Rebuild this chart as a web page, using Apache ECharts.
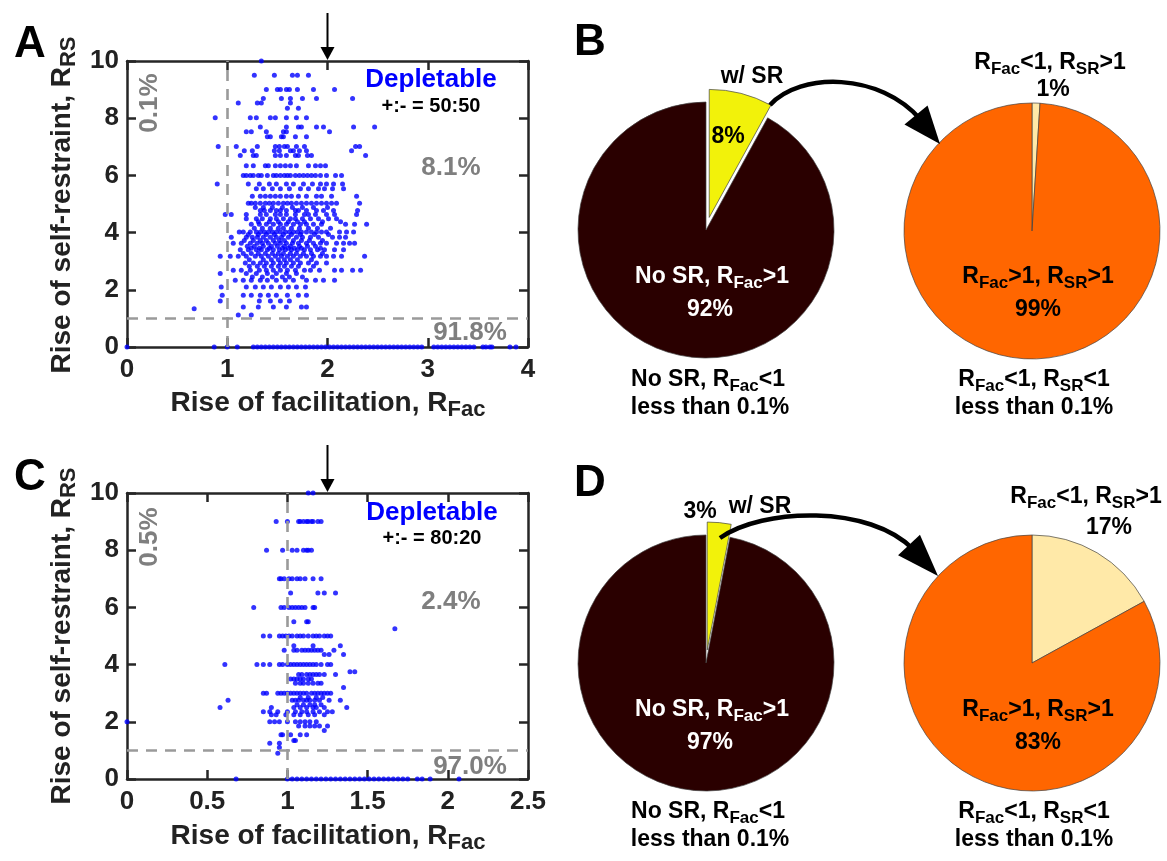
<!DOCTYPE html>
<html>
<head>
<meta charset="utf-8">
<script src="https://cdn.jsdelivr.net/npm/echarts@6/dist/echarts.min.js"></script>
<style>
html, body { margin: 0; padding: 0; background: #fff; }
#main { width: 1167px; height: 861px; }
</style>
</head>
<body>
<div id="main"></div>
<script>
// ---- data ----
// scatter rows: [R_RS, [R_Fac values on that row]]
var rowsA = [
    [10.0, [1.34]],
    [9.5, [1.27, 1.47, 1.65, 1.70, 1.81]],
    [9.0, [1.39, 1.50, 1.53, 1.59, 1.62, 1.70, 1.86, 2.07]],
    [8.69, [1.36, 1.54, 1.63, 1.75, 1.89, 2.25]],
    [8.53, [1.11, 1.30, 1.34, 1.63]],
    [8.35, [1.60, 1.71]],
    [8.02, [0.88, 1.23, 1.29, 1.43, 1.48, 1.59, 1.69, 1.79]],
    [7.69, [1.33, 1.59, 1.71, 1.74, 1.89, 1.96, 2.26, 2.47]],
    [7.53, [1.19, 1.24, 1.39, 1.56, 1.59, 2.02]],
    [7.35, [1.40, 1.43, 1.54, 1.56, 1.68, 1.79]],
    [7.01, [0.91, 1.09, 1.30, 1.48, 1.52, 1.57, 1.60, 1.69, 1.77, 2.28, 2.32]],
    [6.86, [1.17, 1.25, 1.47, 1.52, 1.63, 1.66, 1.72, 1.79, 2.24]],
    [6.70, [1.13, 1.26, 1.29, 1.48, 1.53, 1.59, 1.68, 1.71, 1.80, 1.84, 2.38]],
    [6.34, [1.19, 1.26, 1.38, 1.41, 1.48, 1.53, 1.58, 1.63, 1.69, 1.81, 1.88, 1.93, 1.98]],
    [6.00, [1.16, 1.19, 1.23, 1.26, 1.31, 1.34, 1.40, 1.46, 1.49, 1.53, 1.57, 1.60, 1.63, 1.68, 1.72, 1.76, 1.80, 1.84, 1.88, 1.93, 1.99, 2.08, 2.14]],
    [5.70, [0.90, 1.21, 1.32, 1.42, 1.49, 1.59, 1.66, 1.76, 1.85, 1.93, 1.99, 2.06, 2.15]],
    [5.53, [1.29, 1.36, 1.45, 1.53, 1.62, 1.73, 1.81, 1.91, 1.97, 2.05, 2.16]],
    [5.27, [1.25, 1.33, 1.38, 1.43, 1.48, 1.53, 1.59, 1.64, 1.71, 1.79, 1.89, 1.94, 2.04, 2.29]],
    [5.03, [1.21, 1.24, 1.28, 1.33, 1.38, 1.42, 1.46, 1.51, 1.56, 1.60, 1.64, 1.69, 1.74, 1.79, 1.84, 1.89, 1.94, 1.99, 2.04, 2.09, 2.32]],
    [4.88, [1.28, 1.36, 1.45, 1.55, 1.65, 1.75, 1.86, 2.00]],
    [4.77, [1.33, 1.37, 1.43, 1.49, 1.53, 1.59, 1.68, 1.71, 1.79, 1.89, 1.96, 2.06, 2.30]],
    [4.63, [0.98, 1.04, 1.19, 1.33, 1.39, 1.48, 1.53, 1.59, 1.68, 1.77, 1.81, 1.88, 1.99, 2.07, 2.29]],
    [4.48, [1.19, 1.29, 1.35, 1.43, 1.49, 1.56, 1.63, 1.68, 1.75, 1.83, 1.91, 2.01, 2.09]],
    [4.38, [1.31, 1.42, 1.51, 1.61, 1.70, 1.77, 1.95, 2.13]],
    [4.29, [1.24, 1.32, 1.39, 1.46, 1.53, 1.59, 1.66, 1.73, 1.79, 1.86, 1.94, 2.18, 2.27, 2.39]],
    [4.15, [1.27, 1.35, 1.43, 1.51, 1.56, 1.64, 1.72, 1.81, 1.90, 2.03]],
    [4.02, [1.12, 1.16, 1.23, 1.29, 1.33, 1.37, 1.41, 1.45, 1.49, 1.53, 1.58, 1.62, 1.66, 1.70, 1.74, 1.79, 1.84, 1.89, 1.94, 1.99, 2.12, 2.19, 2.26]],
    [3.93, [1.21, 1.31, 1.39, 1.47, 1.56, 1.64, 1.73, 1.87, 2.01]],
    [3.84, [1.04, 1.19, 1.25, 1.30, 1.36, 1.43, 1.49, 1.54, 1.61, 1.69, 1.75, 1.83, 1.91, 2.05, 2.12, 2.18]],
    [3.72, [1.17, 1.26, 1.33, 1.39, 1.46, 1.52, 1.57, 1.66, 1.74, 1.82, 1.95]],
    [3.63, [1.06, 1.14, 1.23, 1.30, 1.35, 1.41, 1.48, 1.53, 1.59, 1.65, 1.71, 1.79, 1.86, 1.93, 1.99, 2.09, 2.16, 2.22, 2.27]],
    [3.52, [1.20, 1.27, 1.36, 1.44, 1.50, 1.57, 1.63, 1.72, 1.80, 1.88]],
    [3.45, [1.24, 1.32, 1.42, 1.55, 1.61, 1.67, 1.74, 1.93]],
    [3.40, [1.13, 1.21, 1.29, 1.34, 1.40, 1.46, 1.52, 1.58, 1.64, 1.70, 1.77, 1.83, 1.90, 1.97, 2.07, 2.16]],
    [3.27, [1.16, 1.24, 1.31, 1.38, 1.45, 1.51, 1.56, 1.63, 1.69, 1.76, 1.84, 1.95]],
    [3.17, [0.93, 1.03, 1.11, 1.19, 1.28, 1.34, 1.41, 1.48, 1.54, 1.60, 1.66, 1.73, 1.79, 1.86, 1.93, 1.99, 2.06, 2.14, 2.37]],
    [3.05, [1.22, 1.36, 1.44, 1.51, 1.57, 1.63, 1.70, 1.84]],
    [2.94, [1.18, 1.26, 1.33, 1.39, 1.46, 1.53, 1.59, 1.66, 1.73, 1.81, 1.89, 1.99]],
    [2.82, [1.22, 1.30, 1.37, 1.44, 1.51, 1.57, 1.64, 1.71, 1.86]],
    [2.68, [1.06, 1.14, 1.23, 1.32, 1.39, 1.46, 1.53, 1.60, 1.68, 1.77, 1.83, 1.92, 2.07, 2.14, 2.25, 2.33]],
    [2.57, [0.93, 1.19, 1.29, 1.40, 1.49, 1.59, 1.69]],
    [2.45, [1.25, 1.35, 1.45, 1.55, 1.62, 1.75]],
    [2.33, [1.08, 1.16, 1.24, 1.33, 1.40, 1.49, 1.58, 1.66, 1.79, 1.88, 1.96, 2.07]],
    [2.10, [0.94, 1.19, 1.28, 1.36, 1.44, 1.53, 1.61, 1.69, 1.78]],
    [1.81, [0.95, 1.16, 1.24, 1.33, 1.41, 1.49, 1.60, 1.71, 1.79]],
    [1.61, [0.93, 1.32, 1.43, 1.53, 1.62]],
    [1.40, [1.16, 1.31, 1.46, 1.59, 1.74, 1.79]],
    [1.34, [0.67]],
    [1.12, [1.11, 1.24]]
];
// points lying on R_RS = 0 (no self-restraint)
var zeroA = [0, 0.87, 1.0, 1.1,
    1.26, 1.30, 1.34, 1.38, 1.42, 1.46, 1.50, 1.54, 1.58, 1.62, 1.66, 1.70, 1.74, 1.78, 1.82, 1.86,
    1.90, 1.94, 1.98, 2.02, 2.06, 2.10, 2.14, 2.18, 2.22, 2.26, 2.30, 2.34, 2.38, 2.42, 2.46, 2.50,
    2.54, 2.58, 2.62, 2.66, 2.70, 2.74, 2.78, 2.82, 2.86, 2.90, 2.94,
    3.06, 3.10, 3.14, 3.18, 3.22, 3.26, 3.30, 3.34, 3.38, 3.42, 3.46, 3.55, 3.58, 3.62, 3.64,
    3.82, 3.88];

var rowsC = [
    [10, [1.13, 1.16]],
    [9, [0.93, 1.0, 1.07, 1.08, 1.10, 1.12, 1.13, 1.15, 1.16, 1.19, 1.21]],
    [8, [0.87, 0.97, 1.03, 1.06, 1.10, 1.12, 1.13, 1.15]],
    [7, [0.95, 0.96, 0.98, 1.01, 1.03, 1.06, 1.08, 1.11, 1.16, 1.21]],
    [6.5, [1.02, 1.19, 1.23, 1.30]],
    [6, [0.79, 0.96, 0.98, 1.01, 1.03, 1.05, 1.07, 1.09, 1.11, 1.16, 1.17]],
    [5.5, [1.04, 1.12, 1.13]],
    [5.25, [1.67]],
    [5, [0.85, 0.89, 0.95, 0.97, 0.99, 1.01, 1.03, 1.06, 1.08, 1.10, 1.13, 1.16, 1.18, 1.20, 1.23, 1.25, 1.27]],
    [4.66, [1.04, 1.16, 1.33]],
    [4.5, [0.98, 1.04, 1.06, 1.09, 1.11, 1.13, 1.15, 1.17, 1.19, 1.21, 1.29]],
    [4.35, [1.23, 1.26, 1.35]],
    [4, [0.61, 0.81, 0.85, 0.89, 0.95, 0.97, 1.0, 1.02, 1.04, 1.06, 1.08, 1.10, 1.12, 1.14, 1.16, 1.18, 1.21, 1.25, 1.27]],
    [3.75, [1.39, 1.42]],
    [3.65, [1.07, 1.09, 1.12, 1.14, 1.16, 1.18, 1.20, 1.23, 1.30]],
    [3.5, [1.02, 1.04, 1.06, 1.08, 1.10, 1.13, 1.15]],
    [3.35, [1.05, 1.08, 1.10, 1.13, 1.16, 1.19, 1.21]],
    [3.2, [1.35]],
    [3, [0.85, 0.87, 0.94, 0.96, 0.98, 1.0, 1.02, 1.04, 1.06, 1.08, 1.10, 1.12, 1.15, 1.17, 1.19, 1.21, 1.23, 1.25, 1.27]],
    [2.85, [1.08, 1.13, 1.18, 1.22]],
    [2.75, [0.63, 1.03, 1.05, 1.07, 1.10, 1.12, 1.14, 1.17, 1.20, 1.26, 1.33]],
    [2.6, [1.06, 1.10, 1.14, 1.17, 1.21]],
    [2.5, [0.58, 0.90, 1.04, 1.08, 1.12, 1.16, 1.18, 1.23, 1.37]],
    [2.35, [0.85, 0.89, 0.94, 1.0, 1.05, 1.09, 1.12, 1.16, 1.20, 1.25, 1.28]],
    [2.25, [0.90, 0.93, 0.99, 1.04, 1.08, 1.13, 1.17, 1.23]],
    [2, [0.0, 0.89, 0.92, 0.95, 1.0, 1.05, 1.08, 1.11, 1.14, 1.18]],
    [1.85, [1.07, 1.11, 1.14, 1.17, 1.20, 1.25]],
    [1.7, [1.23]],
    [1.55, [0.96, 0.97, 1.02, 1.08, 1.12]],
    [1.35, [1.04, 1.05]],
    [1.25, [0.89, 0.95]],
    [1.1, [0.95]],
    [0.9, [0.94]]
];
var zeroC = [0.68,
    1.00, 1.03, 1.06, 1.09, 1.12, 1.15, 1.18, 1.21, 1.24, 1.27, 1.30, 1.33, 1.36, 1.39, 1.42,
    1.45, 1.48, 1.51, 1.54, 1.57, 1.60, 1.63, 1.66, 1.69, 1.72, 1.75,
    1.81, 1.84, 1.89, 2.07];

// arrow marks the chosen R_Fac on each scatter
var arrowX = [2, 1.25];
var quadrantA = ['0.1%', '8.1%', '91.8%'];
var quadrantC = ['0.5%', '2.4%', '97.0%'];

// pies: [w/ SR (or minor), rest]
var pieBLeft = [8, 92];
var pieBRight = [1, 99];
var pieDLeft = [3, 97];
var pieDRight = [17, 83];

var FONT = '"Liberation Sans", Arial, Helvetica, sans-serif';
var myChart = echarts.init(document.getElementById('main'));

function toPoints(rows, zeros) {
    var pts = [];
    rows.forEach(function (r) {
        r[1].forEach(function (x) { pts.push([x, r[0]]); });
    });
    zeros.forEach(function (x) { pts.push([x, 0]); });
    return pts;
}

// rich text styles: m = main, s = subscript
function richStyle(size, sub) {
    return {
        m: { fontSize: size, fontWeight: 'bold', fontFamily: FONT, lineHeight: Math.round(size * 1.3) },
        s: { fontSize: sub, fontWeight: 'bold', fontFamily: FONT, verticalAlign: 'bottom' }
    };
}

function txt(x, y, text, size, color, opt) {
    opt = opt || {};
    var el = {
        type: 'text', x: x, y: y, z: 100,
        rotation: opt.rotation || 0,
        style: {
            text: text,
            fill: color,
            fontSize: size,
            fontWeight: 'bold',
            fontFamily: FONT,
            align: opt.align || 'center',
            verticalAlign: 'middle'
        }
    };
    if (opt.sub) el.style.rich = richStyle(size, opt.sub);
    return el;
}

var axisColor = '#262626';
function xAxisDef(grid, max, interval, pos) {
    return {
        type: 'value', gridIndex: grid, min: 0, max: max, interval: interval, position: pos,
        axisLine: { show: true, onZero: false, lineStyle: { color: axisColor, width: 2.5 } },
        axisTick: { show: true, inside: true, length: 9, lineStyle: { color: axisColor, width: 2.5 } },
        axisLabel: { show: pos === 'bottom', color: '#222', fontSize: 26, fontWeight: 'bold', fontFamily: FONT, margin: 10 },
        splitLine: { show: false }
    };
}
function yAxisDef(grid, pos) {
    return {
        type: 'value', gridIndex: grid, min: 0, max: 10, interval: 2, position: pos,
        axisLine: { show: true, onZero: false, lineStyle: { color: axisColor, width: 2.5 } },
        axisTick: { show: true, inside: true, length: 9, lineStyle: { color: axisColor, width: 2.5 } },
        axisLabel: { show: pos === 'left', color: '#222', fontSize: 26, fontWeight: 'bold', fontFamily: FONT, margin: 8 },
        splitLine: { show: false }
    };
}

function scatterSeries(xi, yi, pts) {
    return {
        type: 'scatter', xAxisIndex: xi, yAxisIndex: yi, data: pts,
        symbolSize: 5, clip: false, silent: true,
        itemStyle: { color: '#0000ff' },
        markLine: {
            silent: true, symbol: 'none', animation: false,
            label: { show: false },
            lineStyle: { color: '#9a9a9a', width: 2.6, type: [11, 8] },
            data: [{ xAxis: 1 }, { yAxis: 1 }]
        }
    };
}

function pieSeries(center, values, colors, explode) {
    return {
        type: 'pie', center: center, radius: 128, startAngle: 90, clockwise: true,
        selectedMode: explode ? 'single' : false, selectedOffset: 13,
        silent: true, animation: false,
        label: { show: false }, labelLine: { show: false },
        emphasis: { disabled: true },
        itemStyle: { borderColor: '#444', borderWidth: 0.7 },
        data: values.map(function (v, i) {
            return { value: v, selected: explode && i === 0, itemStyle: { color: colors[i] } };
        })
    };
}

var dark = '#2a0000', yellow = '#f2f20a', orange = '#ff6600', light = '#ffe9a8';

var texts = [
    // panel letters
    txt(30, 45, 'A', 44, '#000'),
    txt(590, 43, 'B', 44, '#000'),
    txt(30, 478, 'C', 44, '#000'),
    txt(590, 484, 'D', 44, '#000'),
    // axis titles
    txt(62, 205, '{m|Rise of self-restraint, R}{s|RS}', 28, '#222', { rotation: Math.PI / 2, sub: 22 }),
    txt(328, 403, '{m|Rise of facilitation, R}{s|Fac}', 28, '#222', { sub: 22 }),
    txt(62, 636, '{m|Rise of self-restraint, R}{s|RS}', 28, '#222', { rotation: Math.PI / 2, sub: 22 }),
    txt(328, 836, '{m|Rise of facilitation, R}{s|Fac}', 28, '#222', { sub: 22 }),
    // A annotations
    txt(150, 103, quadrantA[0], 26, '#7f7f7f', { rotation: Math.PI / 2 }),
    txt(451, 168, quadrantA[1], 26, '#7f7f7f'),
    txt(470, 333, quadrantA[2], 26, '#7f7f7f'),
    txt(431, 80, 'Depletable', 26, '#0000ff'),
    txt(431, 106, '+:- = 50:50', 20, '#000'),
    // C annotations
    txt(150, 537, quadrantC[0], 26, '#7f7f7f', { rotation: Math.PI / 2 }),
    txt(451, 602, quadrantC[1], 26, '#7f7f7f'),
    txt(470, 767, quadrantC[2], 26, '#7f7f7f'),
    txt(432, 513, 'Depletable', 26, '#0000ff'),
    txt(432, 538, '+:- = 80:20', 20, '#000'),
    // B labels
    txt(752, 77, 'w/ SR', 23, '#000'),
    txt(728, 137, pieBLeft[0] + '%', 23, '#000'),
    txt(712, 277, '{m|No SR, R}{s|Fac}{m|>1}', 23, '#fff', { sub: 17 }),
    txt(710, 310, pieBLeft[1] + '%', 23, '#fff'),
    txt(708, 380, '{m|No SR, R}{s|Fac}{m|<1}', 23, '#000', { sub: 17 }),
    txt(710, 408, 'less than 0.1%', 23, '#000'),
    txt(1050, 63, '{m|R}{s|Fac}{m|<1, R}{s|SR}{m|>1}', 23, '#000', { sub: 17 }),
    txt(1053, 90, pieBRight[0] + '%', 23, '#000'),
    txt(1038, 277, '{m|R}{s|Fac}{m|>1, R}{s|SR}{m|>1}', 23, '#000', { sub: 17 }),
    txt(1038, 310, pieBRight[1] + '%', 23, '#000'),
    txt(1034, 380, '{m|R}{s|Fac}{m|<1, R}{s|SR}{m|<1}', 23, '#000', { sub: 17 }),
    txt(1034, 408, 'less than 0.1%', 23, '#000'),
    // D labels
    txt(700, 512, pieDLeft[0] + '%', 23, '#000'),
    txt(760, 507, 'w/ SR', 23, '#000'),
    txt(712, 710, '{m|No SR, R}{s|Fac}{m|>1}', 23, '#fff', { sub: 17 }),
    txt(710, 743, pieDLeft[1] + '%', 23, '#fff'),
    txt(708, 812, '{m|No SR, R}{s|Fac}{m|<1}', 23, '#000', { sub: 17 }),
    txt(710, 840, 'less than 0.1%', 23, '#000'),
    txt(1086, 497, '{m|R}{s|Fac}{m|<1, R}{s|SR}{m|>1}', 23, '#000', { sub: 17 }),
    txt(1109, 528, pieDRight[0] + '%', 23, '#000'),
    txt(1038, 710, '{m|R}{s|Fac}{m|>1, R}{s|SR}{m|>1}', 23, '#000', { sub: 17 }),
    txt(1038, 743, pieDRight[1] + '%', 23, '#000'),
    txt(1034, 812, '{m|R}{s|Fac}{m|<1, R}{s|SR}{m|<1}', 23, '#000', { sub: 17 }),
    txt(1034, 840, 'less than 0.1%', 23, '#000')
];

// filled triangular arrow head; (bx,by) = base centre, (tx,ty) = tip
function head(bx, by, tx, ty, half) {
    var dx = tx - bx, dy = ty - by, L = Math.sqrt(dx * dx + dy * dy);
    var px = -dy / L * half, py = dx / L * half;
    return {
        type: 'polygon', z: 100,
        shape: { points: [[tx, ty], [bx + px, by + py], [bx - px, by - py]] },
        style: { fill: '#000' }
    };
}
function curve(x1, y1, c1x, c1y, c2x, c2y, x2, y2) {
    return {
        type: 'bezierCurve', z: 100,
        shape: { x1: x1, y1: y1, cpx1: c1x, cpy1: c1y, cpx2: c2x, cpy2: c2y, x2: x2, y2: y2 },
        style: { stroke: '#000', lineWidth: 4.5, fill: null }
    };
}
var arrows = [
    curve(770, 105, 800, 72, 880, 72, 921, 120), head(916, 115, 940, 144, 15),
    curve(720, 538, 762, 508, 870, 504, 914, 550), head(909, 545, 938, 576, 15)
];

var option = {
    animation: false,
    backgroundColor: '#fff',
    grid: [
        { left: 127, top: 61, width: 401, height: 286 },
        { left: 127, top: 493, width: 401, height: 286 }
    ],
    xAxis: [
        xAxisDef(0, 4, 1, 'bottom'), xAxisDef(0, 4, 1, 'top'),
        xAxisDef(1, 2.5, 0.5, 'bottom'), xAxisDef(1, 2.5, 0.5, 'top')
    ],
    yAxis: [
        yAxisDef(0, 'left'), yAxisDef(0, 'right'),
        yAxisDef(1, 'left'), yAxisDef(1, 'right')
    ],
    series: [
        scatterSeries(0, 0, toPoints(rowsA, zeroA)),
        scatterSeries(2, 2, toPoints(rowsC, zeroC)),
        pieSeries([706, 230], pieBLeft, [yellow, dark], true),
        pieSeries([1032, 231], pieBRight, [light, orange], false),
        pieSeries([706, 663], pieDLeft, [yellow, dark], true),
        pieSeries([1032, 663], pieDRight, [light, orange], false)
    ],
    graphic: texts.concat(arrows)
};
myChart.setOption(option);

// vertical arrows above the scatters, placed through the axis scales
var downArrows = [];
arrowX.forEach(function (xv, gi) {
    var p = myChart.convertToPixel({ xAxisIndex: gi * 2, yAxisIndex: gi * 2 }, [xv, 10]);
    downArrows.push({
        type: 'line', z: 100,
        shape: { x1: p[0], y1: p[1] - 48, x2: p[0], y2: p[1] - 10 },
        style: { stroke: '#000', lineWidth: 2 }
    });
    downArrows.push(head(p[0], p[1] - 14, p[0], p[1] - 1, 7));
});
option.graphic = option.graphic.concat(downArrows);
myChart.setOption({ graphic: option.graphic });
</script>
</body>
</html>
